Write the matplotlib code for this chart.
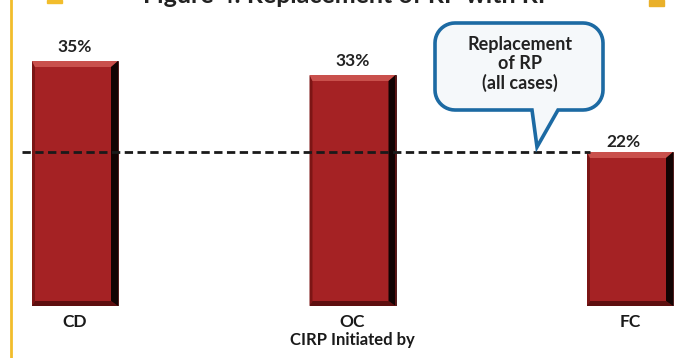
import numpy as np
import matplotlib.pyplot as plt
from matplotlib.patches import Polygon, PathPatch
from matplotlib.path import Path

plt.rcParams['font.family'] = ['Lato', 'DejaVu Sans']

# Datos
categorias = ['CD', 'OC', 'FC']
valores = [35, 33, 22]
promedio = 22                      # reemplazo de RP, todos los casos
titulo = 'Figure 4: Replacement of RP with RP'
xlabel = 'CIRP Initiated by'
nota = 'Replacement\nof RP\n(all cases)'

W, H = 695, 358
fig = plt.figure(figsize=(W / 100, H / 100), dpi=100)
fig.patch.set_facecolor('white')

# ejes: centros de barra en 75, 352, 630 px; base en y=306 px
ppx = 277.5                        # px por unidad x
ppy = 7.0                          # px por punto porcentual
x0 = -75 / ppx
ax = fig.add_axes([0, (H - 306) / H, 1, 306 / H])
ax.set_xlim(x0, x0 + W / ppx)
ax.set_ylim(0, 306 / ppy)
ax.axis('off')

x = np.arange(len(categorias))
ancho = 86 / ppx
rojo = '#a52224'
bars = ax.bar(x, valores, width=ancho, color=rojo, edgecolor='#3a0808', linewidth=0.6, zorder=2)

# biselado de cada barra
dx, dy = 1 / ppx, 1 / ppy
for b in bars:
    l, r = b.get_x(), b.get_x() + b.get_width()
    t = b.get_height()
    tb, rb, bb, lb = 6, 7, 5, 3
    sup = [(l, t), (r, t), (r - rb * dx, t - tb * dy), (l + lb * dx, t - tb * dy)]
    der = [(r, t), (r, 0), (r - rb * dx, bb * dy), (r - rb * dx, t - tb * dy)]
    inf = [(l, 0), (r, 0), (r - rb * dx, bb * dy), (l + lb * dx, bb * dy)]
    izq = [(l, t), (l, 0), (l + lb * dx, bb * dy), (l + lb * dx, t - tb * dy)]
    ax.add_patch(Polygon(izq, closed=True, color='#7c1515', lw=0, zorder=3))
    ax.add_patch(Polygon(inf, closed=True, color='#5e0f0f', lw=0, zorder=3))
    ax.add_patch(Polygon(sup, closed=True, color='#c9504c', lw=0, zorder=3))
    ax.add_patch(Polygon(der, closed=True, color='#120303', lw=0, zorder=3))
    # la barra igual al promedio lleva su valor al final de la linea
    if t != promedio:
        ax.annotate(f'{int(t)}%', (b.get_x() + b.get_width() / 2, t), xytext=(0, 4),
                    textcoords='offset points', ha='center', va='bottom',
                    fontsize=12.5, fontweight='bold', color='#222222')

# linea de referencia
ax.hlines(promedio, 22 / ppx + x0, 590 / ppx + x0, colors='#1a1a1a',
          linestyles=(0, (3, 1.6)), linewidth=2.0, zorder=4)
ax.annotate(f'{promedio}%', (606 / ppx + x0, promedio), xytext=(0, 7),
            textcoords='offset points', ha='left', va='center',
            fontsize=12.5, fontweight='bold', color='#222222')

# etiquetas de categoria
for xi, c in zip(x, categorias):
    ax.text(xi, -16 * dy, c, ha='center', va='center', fontsize=12.5,
            fontweight='bold', color='#1a1a1a', clip_on=False)
fig.text(352 / W, 1 - 340 / H, xlabel, ha='center', va='center', fontsize=12,
         fontweight='bold', color='#1a1a1a')

# globo de texto (coordenadas en pulgadas)
def globo(x1, x2, y1, y2, rad, tail):
    pts = []
    esquinas = [(x2 - rad, y2 - rad, 0), (x1 + rad, y2 - rad, 90),
                (x1 + rad, y1 + rad, 180), (x2 - rad, y1 + rad, 270)]
    for cx, cy, a0 in esquinas:
        a = np.radians(np.linspace(a0, a0 + 90, 12))
        pts += list(zip(cx + rad * np.cos(a), cy + rad * np.sin(a)))
        if a0 == 180:
            pts += tail
    pts.append(pts[0])
    return Path(pts, closed=True)

cola = [(5.32, 2.48), (5.37, 2.11), (5.58, 2.48)]
p = globo(4.35, 6.03, 2.48, 3.35, 0.2, cola)
fig.patches.append(PathPatch(p, transform=fig.dpi_scale_trans, facecolor='#f5f8fa',
                             edgecolor='#1c6aa3', linewidth=2.6, zorder=5))
fig.text(5.20 / 6.95, 1 - 64 / H, nota, ha='center', va='center', fontsize=13,
         fontweight='bold', color='#222222', linespacing=1.1, zorder=6)

# marco amarillo y titulo recortado
fig.add_artist(plt.Line2D([10.5 / W, 10.5 / W], [0, 1], color='#f2bd2c', linewidth=2))
fig.patches.append(plt.Rectangle((47 / W, 1 - 3 / H), 15 / W, 3 / H,
                                 transform=fig.transFigure, color='#f2bd2c'))
fig.patches.append(plt.Rectangle((649 / W, 1 - 6 / H), 15 / W, 6 / H,
                                 transform=fig.transFigure, color='#e9b02a'))
fig.text(348 / W, 1 - 3 / H, titulo, ha='center', va='baseline', fontsize=18,
         fontweight='bold', color='#222222')

fig.savefig('out.png', dpi=100)
